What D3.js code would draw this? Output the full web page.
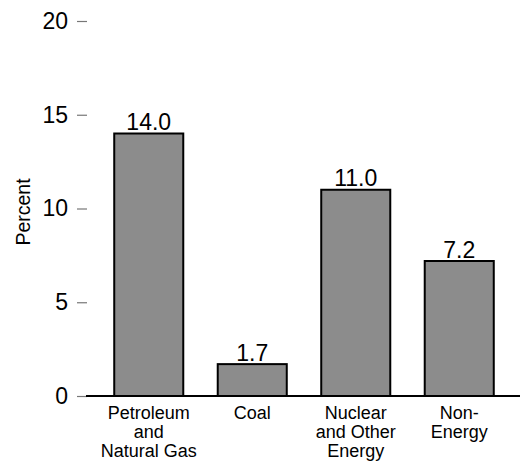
<!DOCTYPE html>
<html>
<head>
<meta charset="utf-8">
<script src="https://cdn.jsdelivr.net/npm/d3@7"></script>
<style>
  body { margin: 0; background: #fff; }
  text { font-family: "Liberation Sans", Arial, sans-serif; }
</style>
</head>
<body>
<svg id="chart" width="520" height="463"></svg>
<script>
// data
var categories = ["Petroleum and Natural Gas", "Coal", "Nuclear and Other Energy", "Non-Energy"];
var labelLines = [["Petroleum", "and", "Natural Gas"], ["Coal"], ["Nuclear", "and Other", "Energy"], ["Non-", "Energy"]];
var values = [14.0, 1.7, 11.0, 7.2];
var yTicks = [0, 5, 10, 15, 20];

var svg = d3.select("#chart");

var x = d3.scaleBand()
    .domain(categories)
    .range([97, 511])
    .paddingInner(0.333)
    .paddingOuter(0.1665);

var y = d3.scaleLinear()
    .domain([0, 20])
    .range([396, 21]);

// y axis: labels and little gray ticks, no line
var yAxis = svg.append("g")
    .attr("transform", "translate(87,0)")
    .call(d3.axisLeft(y).tickValues(yTicks).tickSize(10).tickPadding(9).tickFormat(d3.format("d")));
yAxis.select(".domain").remove();
yAxis.selectAll(".tick line").attr("stroke", "#777").attr("stroke-width", 1.2);
yAxis.selectAll(".tick text")
    .attr("fill", "#000")
    .style("font-size", "23px")
    .style("font-family", "Liberation Sans, Arial, sans-serif");

// bars
svg.selectAll(".bar")
    .data(values)
    .enter()
    .append("rect")
    .attr("class", "bar")
    .attr("x", function(d, i) { return x(categories[i]); })
    .attr("y", function(d) { return y(d); })
    .attr("width", x.bandwidth())
    .attr("height", function(d) { return y(0) - y(d); })
    .style("fill", "#8c8c8c")
    .style("stroke", "#000")
    .style("stroke-width", 2);

// baseline
svg.append("line")
    .attr("x1", 86)
    .attr("x2", 520)
    .attr("y1", y(0))
    .attr("y2", y(0))
    .style("stroke", "#000")
    .style("stroke-width", 2);

// value labels
svg.selectAll(".valueLabel")
    .data(values)
    .enter()
    .append("text")
    .attr("class", "valueLabel")
    .attr("x", function(d, i) { return x(categories[i]) + x.bandwidth() / 2; })
    .attr("y", function(d) { return y(d) - 3.5; })
    .attr("text-anchor", "middle")
    .style("font-size", "23px")
    .text(function(d) { return d.toFixed(1); });

// category labels, several lines each
var cat = svg.selectAll(".catLabel")
    .data(labelLines)
    .enter()
    .append("text")
    .attr("class", "catLabel")
    .attr("text-anchor", "middle")
    .style("font-size", "18px")
    .attr("transform", function(d, i) {
      return "translate(" + (x(categories[i]) + x.bandwidth() / 2) + ",419)";
    });

cat.selectAll("tspan")
    .data(function(d) { return d; })
    .enter()
    .append("tspan")
    .attr("x", 0)
    .attr("y", function(d, i) { return i * 19; })
    .text(function(d) { return d; });

// y axis title
svg.append("text")
    .attr("transform", "translate(30,212) rotate(-90)")
    .attr("text-anchor", "middle")
    .style("font-size", "19.5px")
    .text("Percent");
</script>
</body>
</html>
